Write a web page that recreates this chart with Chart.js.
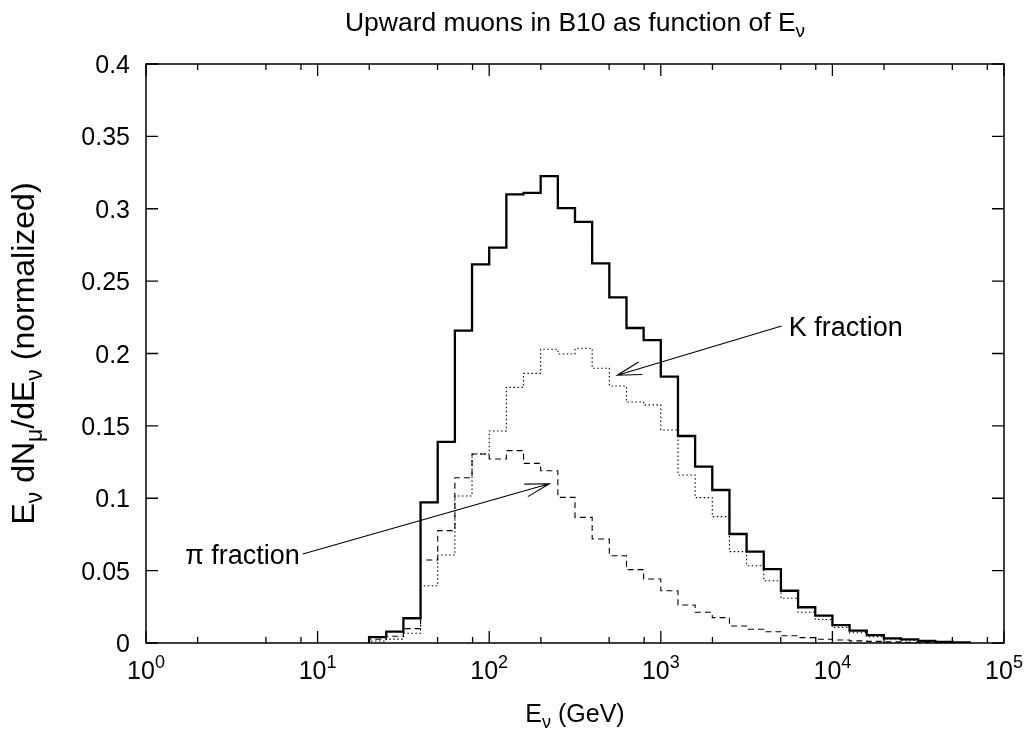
<!DOCTYPE html>
<html>
<head>
<meta charset="utf-8">
<script src="https://cdn.jsdelivr.net/npm/chart.js@4.4.0/dist/chart.umd.min.js"></script>
<style>
  html, body { margin: 0; padding: 0; background: #fff; }
  #wrap { width: 1030px; height: 736px; }
</style>
</head>
<body>
<div id="wrap"><canvas id="myChart" width="1030" height="736"></canvas></div>
<script>
// bin edges in GeV (10 bins per decade), last one closes the last bin
const binEdges = [19.95, 25.12, 31.62, 39.81, 50.12, 63.10, 79.43, 100, 125.9, 158.5,
  199.5, 251.2, 316.2, 398.1, 501.2, 631.0, 794.3, 1000, 1259, 1585,
  1995, 2512, 3162, 3981, 5012, 6310, 7943, 10000, 12589, 15849,
  19953, 25119, 31623, 39811, 50119, 63096];

// total upward muons (solid)
const total = [0.0041, 0.0078, 0.0171, 0.0972, 0.139, 0.2158, 0.2616, 0.2731, 0.310, 0.311,
  0.3226, 0.3005, 0.291, 0.2623, 0.2388, 0.2176, 0.2093, 0.184, 0.143, 0.1218,
  0.1057, 0.0753, 0.0631, 0.0511, 0.0361, 0.0247, 0.0189, 0.0124, 0.0085, 0.0055,
  0.0032, 0.0025, 0.0014, 0.0008, 0.0004];

// K fraction (dotted)
const kaons = [0.0014, 0.0027, 0.0067, 0.0396, 0.0608, 0.1016, 0.1306, 0.1465, 0.1766, 0.1863,
  0.2029, 0.1997, 0.2036, 0.1898, 0.1775, 0.1665, 0.1645, 0.1471, 0.1161, 0.1004,
  0.0873, 0.0631, 0.0534, 0.043, 0.0309, 0.0212, 0.0162, 0.0107, 0.0071, 0.0044,
  0.0028, 0.002, 0.0012, 0.0006, 0.0003];

// pi fraction (dashed)
const pions = [0.0026, 0.0047, 0.0099, 0.0573, 0.0776, 0.1142, 0.1306, 0.1271, 0.1329, 0.1241,
  0.119, 0.1006, 0.0868, 0.0718, 0.0603, 0.0507, 0.0442, 0.0361, 0.0263, 0.0212,
  0.0175, 0.0117, 0.0095, 0.0078, 0.005, 0.0037, 0.0026, 0.0021, 0.0015, 0.0011,
  0.0008, 0.0005, 0.0003, 0.0002, 0.0001];

const xTickExponents = [0, 1, 2, 3, 4, 5];
const xMinorMantissas = [2, 5, 8];
const yTicks = [0, 0.05, 0.1, 0.15, 0.2, 0.25, 0.3, 0.35, 0.4];
const yTickLabels = ['0', '0.05', '0.1', '0.15', '0.2', '0.25', '0.3', '0.35', '0.4'];

// arrows (data coordinates): tail -> head
const kArrow = { from: { x: 5063, y: 0.219 }, to: { x: 558, y: 0.185 } };
const piArrow = { from: { x: 8.2, y: 0.0615 }, to: { x: 224, y: 0.110 } };

const FONT = '"Liberation Sans", Arial, Helvetica, sans-serif';

// histogram as a step line: rise at first edge, fall at last edge
function stepPoints(values) {
  const pts = [{ x: binEdges[0], y: 0 }];
  values.forEach((v, i) => pts.push({ x: binEdges[i], y: v }));
  pts.push({ x: binEdges[values.length], y: 0 });
  return pts;
}

// text with sub (1) / superscript (2) pieces, size = base font px
function drawRich(ctx, parts, x, y, align, size) {
  const small = Math.round(size * 0.72);
  let w = 0;
  parts.forEach(([t, m]) => {
    ctx.font = (m ? small : size) + 'px ' + FONT;
    w += ctx.measureText(t).width;
  });
  let cx = align === 'center' ? x - w / 2 : (align === 'right' ? x - w : x);
  ctx.textAlign = 'left';
  ctx.textBaseline = 'alphabetic';
  parts.forEach(([t, m]) => {
    ctx.font = (m ? small : size) + 'px ' + FONT;
    const dy = m === 1 ? size * 0.24 : (m === 2 ? -size * 0.44 : 0);
    ctx.fillText(t, cx, y + dy);
    cx += ctx.measureText(t).width;
  });
}

function drawArrow(ctx, x0, y0, x1, y1) {
  const ang = Math.atan2(y0 - y1, x0 - x1);
  const len = 25, spread = Math.PI / 12;
  ctx.beginPath();
  ctx.moveTo(x0, y0);
  ctx.lineTo(x1, y1);
  ctx.moveTo(x1 + len * Math.cos(ang - spread), y1 + len * Math.sin(ang - spread));
  ctx.lineTo(x1, y1);
  ctx.lineTo(x1 + len * Math.cos(ang + spread), y1 + len * Math.sin(ang + spread));
  ctx.stroke();
}

const framePlugin = {
  id: 'gnuplotFrame',
  afterDatasetsDraw(chart) {
    const { ctx, chartArea: a, scales } = chart;
    const xs = scales.x, ys = scales.y;
    ctx.save();
    ctx.strokeStyle = '#000';
    ctx.fillStyle = '#000';

    // frame
    ctx.lineWidth = 1.5;
    ctx.strokeRect(a.left, a.top, a.right - a.left, a.bottom - a.top);

    // ticks, all inward and mirrored
    ctx.lineWidth = 1.3;
    ctx.beginPath();
    xTickExponents.forEach(e => {
      const px = xs.getPixelForValue(Math.pow(10, e));
      ctx.moveTo(px, a.bottom); ctx.lineTo(px, a.bottom - 12);
      ctx.moveTo(px, a.top); ctx.lineTo(px, a.top + 12);
      if (e < 5) {
        xMinorMantissas.forEach(m => {
          const mx = xs.getPixelForValue(m * Math.pow(10, e));
          ctx.moveTo(mx, a.bottom); ctx.lineTo(mx, a.bottom - 6);
          ctx.moveTo(mx, a.top); ctx.lineTo(mx, a.top + 6);
        });
      }
    });
    yTicks.forEach(v => {
      const py = ys.getPixelForValue(v);
      ctx.moveTo(a.left, py); ctx.lineTo(a.left + 12, py);
      ctx.moveTo(a.right, py); ctx.lineTo(a.right - 12, py);
    });
    ctx.stroke();

    // tick labels
    xTickExponents.forEach(e => {
      const px = xs.getPixelForValue(Math.pow(10, e));
      drawRich(ctx, [['10', 0], [String(e), 2]], px, a.bottom + 36, 'center', 25);
    });
    yTicks.forEach((v, i) => {
      const py = ys.getPixelForValue(v);
      drawRich(ctx, [[yTickLabels[i], 0]], a.left - 16, py + 9, 'right', 25);
    });

    // arrows and their labels
    ctx.lineWidth = 1.1;
    const k0x = xs.getPixelForValue(kArrow.from.x), k0y = ys.getPixelForValue(kArrow.from.y);
    drawArrow(ctx, k0x, k0y, xs.getPixelForValue(kArrow.to.x), ys.getPixelForValue(kArrow.to.y));
    drawRich(ctx, [['K fraction', 0]], k0x + 7, k0y + 10, 'left', 27);
    const p0x = xs.getPixelForValue(piArrow.from.x), p0y = ys.getPixelForValue(piArrow.from.y);
    drawArrow(ctx, p0x, p0y, xs.getPixelForValue(piArrow.to.x), ys.getPixelForValue(piArrow.to.y));
    drawRich(ctx, [['π fraction', 0]], p0x - 3, p0y + 10, 'right', 27);

    // title and axis titles
    const cx = (a.left + a.right) / 2;
    drawRich(ctx, [['Upward muons in B10 as function of E', 0], ['ν', 1]], cx, 31, 'center', 26.5);
    drawRich(ctx, [['E', 0], ['ν', 1], [' (GeV)', 0]], cx, 722, 'center', 25);
    ctx.translate(34, (a.top + a.bottom) / 2);
    ctx.rotate(-Math.PI / 2);
    drawRich(ctx, [['E', 0], ['ν', 1], [' dN', 0], ['μ', 1], ['/dE', 0], ['ν', 1], [' (normalized)', 0]], 0, 0, 'center', 32);
    ctx.restore();
  }
};

const ctx = document.getElementById('myChart').getContext('2d');
new Chart(ctx, {
  type: 'scatter',
  data: {
    datasets: [
      { label: 'pi fraction', data: stepPoints(pions), borderColor: '#000', borderWidth: 1.1,
        borderDash: [6, 4], showLine: true, stepped: 'before', pointRadius: 0 },
      { label: 'K fraction', data: stepPoints(kaons), borderColor: '#000', borderWidth: 1.1,
        borderDash: [1.5, 2.5], showLine: true, stepped: 'before', pointRadius: 0 },
      { label: 'total', data: stepPoints(total), borderColor: '#000', borderWidth: 2.3,
        showLine: true, stepped: 'before', pointRadius: 0 }
    ]
  },
  options: {
    responsive: false,
    animation: false,
    events: [],
    layout: { padding: { left: 146, right: 26, top: 64, bottom: 93 } },
    plugins: { legend: { display: false }, tooltip: { enabled: false } },
    scales: {
      x: { type: 'logarithmic', min: 1, max: 100000, display: false },
      y: { type: 'linear', min: 0, max: 0.4, display: false }
    }
  },
  plugins: [framePlugin]
});
</script>
</body>
</html>
